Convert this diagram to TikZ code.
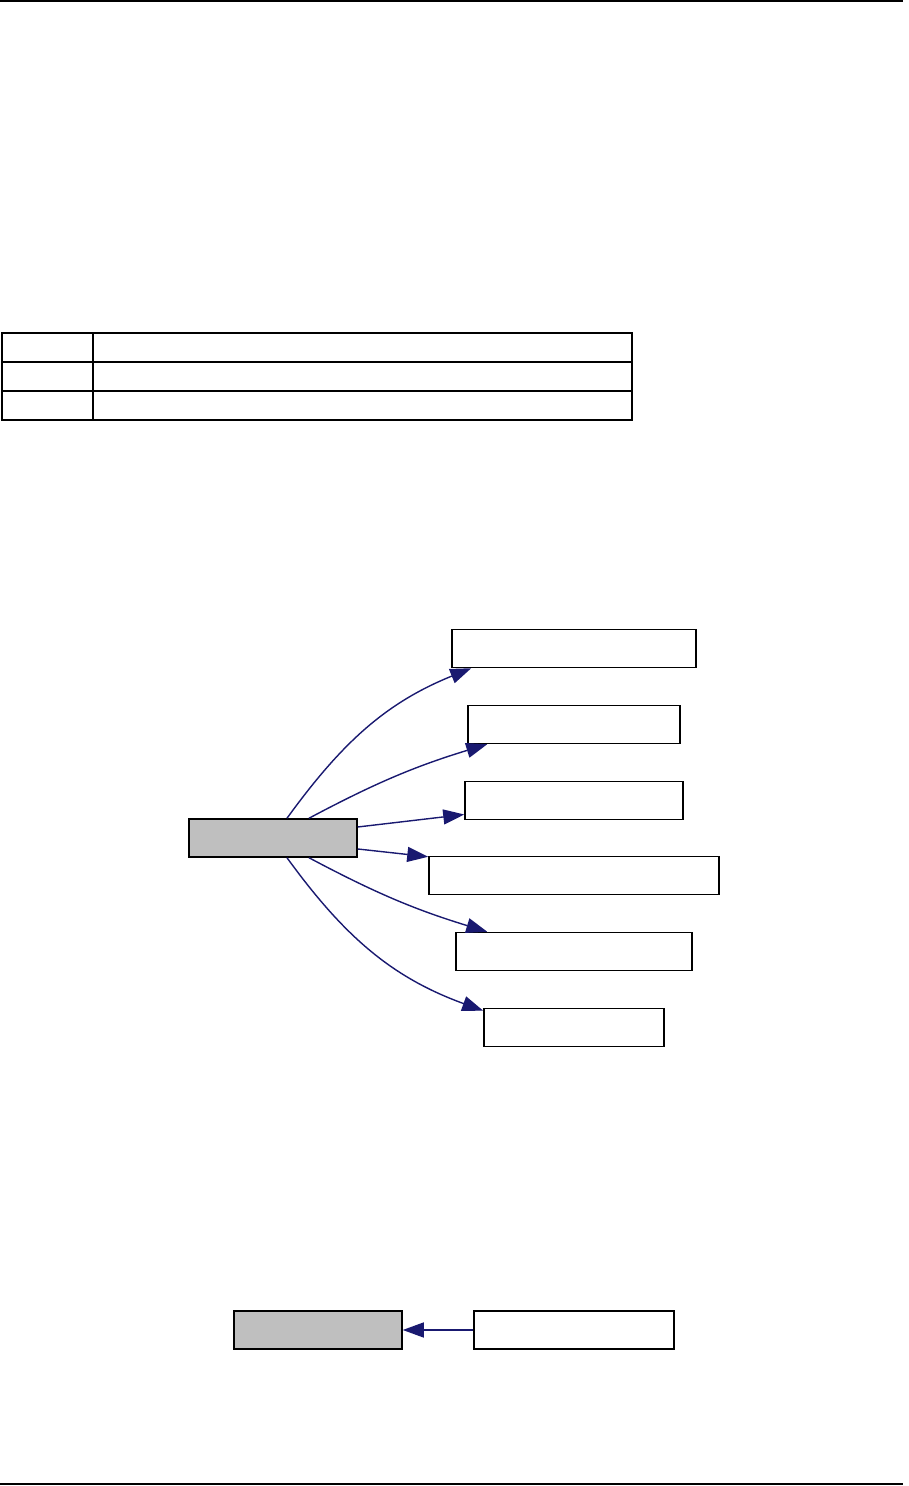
\documentclass[tikz,border=0pt]{standalone}
\usepackage{xcolor}
\usepackage{tikz}
\usetikzlibrary{arrows.meta}
\definecolor{edgeblue}{RGB}{25, 25, 112}
\definecolor{nodegray}{RGB}{191, 191, 191}

\tikzset{
    classbox/.style={draw=black, line width=1.5pt, minimum height=38pt, inner sep=0pt},
    mainbox/.style={classbox, fill=nodegray},
    callarrow/.style={draw=edgeblue, line width=1.4pt, -{Triangle[length=21pt,width=15pt]}}
}

\begin{document}
\begin{tikzpicture}[x=1pt, y=1pt]
        \useasboundingbox (0,0) rectangle (908,1486);
        % page rules
        \draw[line width=1.2pt] (0,1485) -- (903,1485);
        \draw[line width=1.2pt] (0,2) -- (903,2);

        % table
        \draw[line width=1.2pt] (2,1066) rectangle (632,1153);
        \draw[line width=1.2pt] (2,1124) -- (632,1124);
        \draw[line width=1.2pt] (2,1095) -- (632,1095);
        \draw[line width=1.2pt] (93,1066) -- (93,1153);

        % call graph
        \node[mainbox, minimum width=168pt] (func) at (273,648) {};
        \node[classbox, minimum width=244pt] (callA) at (574,837.5) {};
        \node[classbox, minimum width=212pt] (callB) at (574,761.5) {};
        \node[classbox, minimum width=218pt] (callC) at (574,685.5) {};
        \node[classbox, minimum width=290pt] (callD) at (574,610.5) {};
        \node[classbox, minimum width=236pt] (callE) at (574,534.5) {};
        \node[classbox, minimum width=180pt] (callF) at (574,458.5) {};

        \draw[callarrow] ([xshift=14pt]func.north) to[out=54, in=-158] ([xshift=20pt]callA.south west);
        \draw[callarrow] ([xshift=36pt]func.north) to[out=28, in=-163] ([xshift=20pt]callB.south west);
        \draw[callarrow] ([yshift=11pt]func.east) -- ([yshift=-14pt]callC.west);
        \draw[callarrow] ([yshift=-11pt]func.east) -- ([yshift=-1pt]callD.north west);
        \draw[callarrow] ([xshift=36pt]func.south) to[out=-28, in=163] ([xshift=32pt]callE.north west);
        \draw[callarrow] ([xshift=14pt]func.south) to[out=-54, in=160] ([yshift=-3pt]callF.north west);

        % caller graph
        \node[mainbox, minimum width=168pt] (callee) at (318,156) {};
        \node[classbox, minimum width=200pt] (caller) at (574,156) {};
        \draw[callarrow] (caller.west) -- (callee.east);
    \end{tikzpicture}
\end{document}
